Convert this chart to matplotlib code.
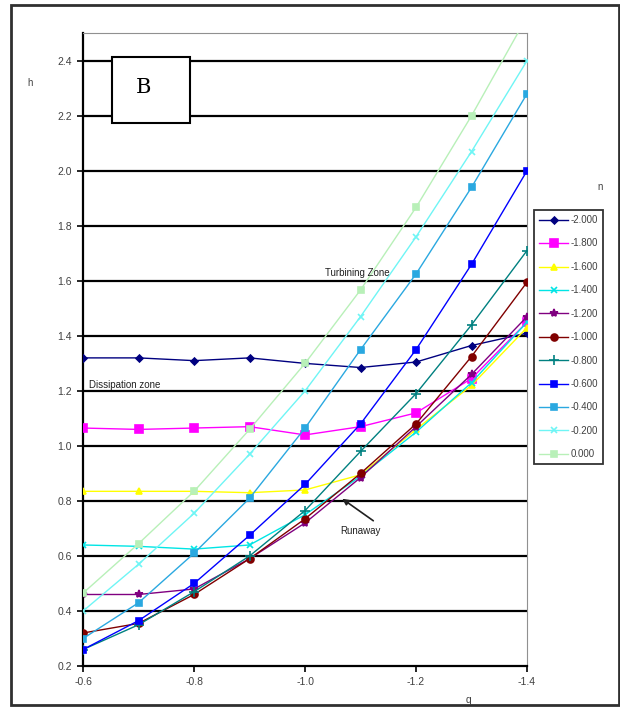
import matplotlib
matplotlib.use("Agg")
import matplotlib.pyplot as plt
from matplotlib.patches import Rectangle

plt.rcParams['font.family'] = ['Liberation Sans', 'DejaVu Sans']

q = [-0.6, -0.7, -0.8, -0.9, -1.0, -1.1, -1.2, -1.3, -1.4]

n_labels = ['-2.000', '-1.800', '-1.600', '-1.400', '-1.200', '-1.000',
            '-0.800', '-0.600', '-0.400', '-0.200', '0.000']

h_m20 = [1.32, 1.32, 1.31, 1.32, 1.30, 1.285, 1.305, 1.365, 1.41]
h_m18 = [1.065, 1.06, 1.065, 1.07, 1.04, 1.07, 1.12, 1.245, 1.45]
h_m16 = [0.835, 0.835, 0.835, 0.83, 0.84, 0.895, 1.06, 1.22, 1.43]
h_m14 = [0.64, 0.635, 0.625, 0.64, 0.75, 0.89, 1.05, 1.23, 1.45]
h_m12 = [0.46, 0.46, 0.48, 0.59, 0.72, 0.885, 1.07, 1.26, 1.47]
h_m10 = [0.32, 0.355, 0.46, 0.59, 0.735, 0.90, 1.08, 1.325, 1.595]
h_m08 = [0.26, 0.35, 0.47, 0.60, 0.765, 0.98, 1.19, 1.44, 1.71]
h_m06 = [0.26, 0.365, 0.50, 0.675, 0.86, 1.08, 1.35, 1.66, 2.00]
h_m04 = [0.30, 0.43, 0.61, 0.81, 1.065, 1.35, 1.625, 1.94, 2.28]
h_m02 = [0.40, 0.57, 0.755, 0.97, 1.20, 1.47, 1.76, 2.07, 2.40]
h_00 = [0.465, 0.645, 0.835, 1.06, 1.30, 1.567, 1.867, 2.20, 2.56]

series = [h_m20, h_m18, h_m16, h_m14, h_m12, h_m10, h_m08, h_m06, h_m04, h_m02, h_00]

colors = ['#000080', '#FF00FF', '#FFFF00', '#00E5E5', '#800080', '#800000',
          '#008080', '#0000FF', '#2AA8E0', '#6FF5F5', '#B8F0B8']
markers = ['D', 's', '^', 'x', '*', 'o', '+', 's', 's', 'x', 's']
msizes = [3.5, 6, 5, 5, 6, 5, 7, 4, 4, 4, 4]

fig = plt.figure(figsize=(6.2, 7.15), dpi=100)
fig.patches.append(Rectangle((0.018, 0.014), 0.98, 0.979, transform=fig.transFigure,
                             fill=False, edgecolor='#303030', linewidth=2))

ax = fig.add_axes([0.134, 0.0685, 0.716, 0.885])

for yv in [0.4, 0.6, 0.8, 1.0, 1.2, 1.4, 1.6, 1.8, 2.0, 2.2, 2.4]:
    ax.axhline(yv, color='black', linewidth=1.6, zorder=1)

for vals, lab, c, m, s in zip(series, n_labels, colors, markers, msizes):
    ax.plot(q, vals, color=c, marker=m, markersize=s, linewidth=1.0,
            markeredgewidth=1.2, label=lab, zorder=3)

ax.set_xlim(-0.6, -1.4)
ax.set_ylim(0.2, 2.5)
ax.set_xticks([-0.6, -0.8, -1.0, -1.2, -1.4])
ax.set_xticklabels(['-0.6', '-0.8', '-1.0', '-1.2', '-1.4'])
ax.set_yticks([0.2, 0.4, 0.6, 0.8, 1.0, 1.2, 1.4, 1.6, 1.8, 2.0, 2.2, 2.4])
ax.set_yticklabels(['0.2', '0.4', '0.6', '0.8', '1.0', '1.2', '1.4', '1.6',
                    '1.8', '2.0', '2.2', '2.4'])
ax.tick_params(labelsize=7.5, labelcolor='#404040', direction='out', length=4,
               width=1.2, pad=4)
ax.spines['left'].set_linewidth(1.6)
ax.spines['bottom'].set_linewidth(1.6)
ax.spines['top'].set_color('#909090')
ax.spines['right'].set_color('#909090')

fig.text(0.048, 0.884, 'h', fontsize=7, color='#404040', ha='center', va='center')
fig.text(0.755, 0.021, 'q', fontsize=7.5, color='#404040', ha='center', va='center')
fig.text(0.968, 0.738, 'n', fontsize=7, color='#404040', ha='center', va='center')

# box with label B
fig.patches.append(Rectangle((0.181, 0.828), 0.126, 0.092, transform=fig.transFigure,
                             facecolor='white', edgecolor='black', linewidth=1.5, zorder=5))
fig.text(0.232, 0.877, 'B', fontsize=15, family='DejaVu Serif', ha='center',
         va='center', zorder=6)

ax.text(-1.0366, 1.63, 'Turbining Zone', fontsize=7, color='#202020', va='center', zorder=6)
ax.text(-0.61, 1.22, 'Dissipation zone', fontsize=7, color='#202020', va='center', zorder=6)
ax.annotate('', xy=(-1.067, 0.808), xytext=(-1.123, 0.728),
            arrowprops=dict(arrowstyle='-|>', color='#202020', lw=1.2,
                            shrinkA=0, shrinkB=0, mutation_scale=9), zorder=6)
ax.text(-1.063, 0.69, 'Runaway', fontsize=7, color='#202020', va='center', zorder=6)

leg = fig.legend(loc='upper left', bbox_to_anchor=(0.862, 0.706),
                 bbox_transform=fig.transFigure, fontsize=7, frameon=True,
                 fancybox=False, edgecolor='black', handlelength=3.0,
                 handletextpad=0.2, labelspacing=1.38, borderpad=0.5,
                 borderaxespad=0)
leg.get_frame().set_linewidth(1.3)
for t in leg.get_texts():
    t.set_color('#404040')

fig.savefig('out.png', dpi=100)
